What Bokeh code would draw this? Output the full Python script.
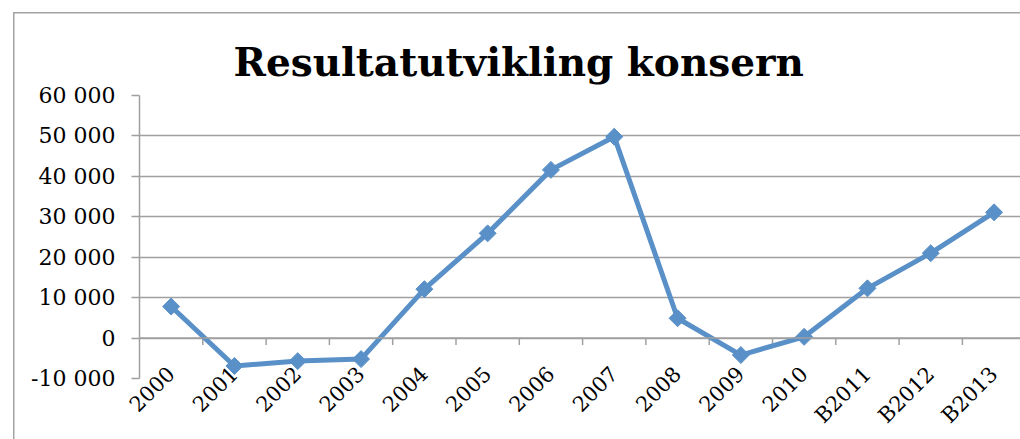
from math import pi
from bokeh.plotting import figure
from bokeh.models import Range1d, FixedTicker, ColumnDataSource, Span, CustomJSTickFormatter
from bokeh.embed import file_html
from bokeh.resources import INLINE

categories = ["2000", "2001", "2002", "2003", "2004", "2005", "2006", "2007",
              "2008", "2009", "2010", "B2011", "B2012", "B2013"]
values = [7800, -6900, -5700, -5200, 12100, 25900, 41600, 49800,
          4900, -4200, 300, 12300, 21000, 31100]
y_ticks = [-10000, 0, 10000, 20000, 30000, 40000, 50000, 60000]
title_text = "Resultatutvikling konsern"

xs = list(range(len(categories)))
src = ColumnDataSource(dict(x=xs, y=values))

W, H = 1020, 439
FL, FT, FB = 139, 95, 61
p = figure(width=W, height=H, output_backend="svg", toolbar_location=None,
           x_range=Range1d(-0.5, -0.5 + (W - FL) / 63.3), y_range=Range1d(-10000, 60000),
           min_border_left=FL, min_border_right=0, min_border_top=FT,
           min_border_bottom=FB)
p.outline_line_color = None
p.background_fill_color = "white"
p.border_fill_color = None
edge = "#a3a3a3"
p.styles = {
    "background": (f"linear-gradient({edge},{edge}) 13px 12px / 1.5px 100% no-repeat, "
                   f"linear-gradient({edge},{edge}) 13px 12px / 100% 1.5px no-repeat, white")
}

# title
p.title.text = title_text
p.title.text_font = "DejaVu Serif"
p.title.text_font_style = "bold"
p.title.text_font_size = "39px"
p.title.text_color = "black"
p.title.align = "left"
p.title.offset = 94
p.title.standoff = 21

grid_col = "#a0a0a0"
# y axis
yax = p.yaxis[0]
yax.ticker = FixedTicker(ticks=y_ticks)
yax.formatter = CustomJSTickFormatter(code="""
const s = Math.abs(tick).toFixed(0).replace(/\\B(?=(\\d{3})+(?!\\d))/g, ' ');
return (tick < 0 ? '-' : '') + s;
""")
yax.major_label_text_font = "DejaVu Serif"
yax.major_label_text_font_size = "22px"
yax.major_label_text_color = "black"
yax.major_label_standoff = 16
yax.axis_line_color = grid_col
yax.axis_line_width = 1.5
yax.major_tick_line_color = grid_col
yax.major_tick_line_width = 1.5
yax.major_tick_out = 8
yax.major_tick_in = 0
yax.minor_tick_line_color = None
p.ygrid.ticker = FixedTicker(ticks=y_ticks)
p.ygrid.grid_line_color = grid_col
p.ygrid.grid_line_width = 1.5
p.xgrid.grid_line_color = None

# x axis: labels only, at the bottom
xax = p.xaxis[0]
xax.ticker = FixedTicker(ticks=xs)
xax.major_label_overrides = {i: c for i, c in enumerate(categories)}
xax.major_label_orientation = pi / 4
xax.major_label_text_font = "DejaVu Serif"
xax.major_label_text_font_size = "21px"
xax.major_label_text_color = "black"
xax.major_label_standoff = -14
xax.axis_line_color = None
xax.major_tick_line_color = None
xax.minor_tick_line_color = None

# category axis line at zero with tick marks between categories
p.add_layout(Span(location=0, dimension="width", line_color=grid_col, line_width=1.5))
px_per_unit = (H - FT - FB) / 70000.0
tick_len = 7 / px_per_unit
bx = [i + 0.5 for i in xs[:-1]]
p.segment(x0=bx, y0=[0] * len(bx), x1=bx, y1=[-tick_len] * len(bx),
          line_color=grid_col, line_width=1.5)

# series
p.line("x", "y", source=src, line_color="#5A90C8", line_width=5)
p.scatter("x", "y", source=src, marker="square", angle=pi / 4, size=12,
          fill_color="#5A90C8", line_color="#5A90C8")

open("out.html", "w").write(file_html(p, INLINE))
